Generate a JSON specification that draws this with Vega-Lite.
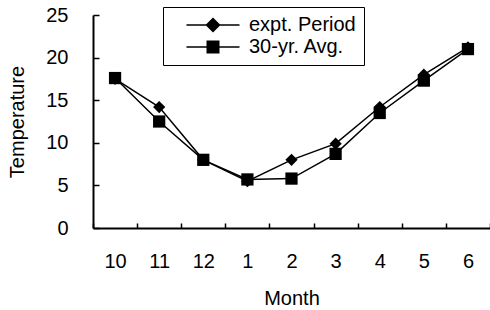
{
  "$schema": "https://vega.github.io/schema/vega-lite/v6.json",
  "width": 397,
  "height": 213,
  "autosize": {"type": "none"},
  "padding": {"left": 93, "top": 15, "right": 0, "bottom": 82},
  "background": "white",
  "config": {
    "view": {"stroke": null},
    "font": "Liberation Sans",
    "axis": {"domainColor": "black", "tickColor": "black", "labelColor": "black", "titleColor": "black", "grid": false, "labelFont": "Liberation Sans", "titleFont": "Liberation Sans", "titleFontWeight": "normal", "labelFontSize": 20, "titleFontSize": 20, "domainWidth": 2, "tickWidth": 1.5}
  },
  "data": {
    "values": [
      {"Month": "10", "Series": "expt. Period", "Temperature": 17.5},
      {"Month": "11", "Series": "expt. Period", "Temperature": 14.2},
      {"Month": "12", "Series": "expt. Period", "Temperature": 8.0},
      {"Month": "1", "Series": "expt. Period", "Temperature": 5.5},
      {"Month": "2", "Series": "expt. Period", "Temperature": 8.0},
      {"Month": "3", "Series": "expt. Period", "Temperature": 9.9},
      {"Month": "4", "Series": "expt. Period", "Temperature": 14.2},
      {"Month": "5", "Series": "expt. Period", "Temperature": 18.0},
      {"Month": "6", "Series": "expt. Period", "Temperature": 21.2},
      {"Month": "10", "Series": "30-yr. Avg.", "Temperature": 17.6},
      {"Month": "11", "Series": "30-yr. Avg.", "Temperature": 12.5},
      {"Month": "12", "Series": "30-yr. Avg.", "Temperature": 8.0},
      {"Month": "1", "Series": "30-yr. Avg.", "Temperature": 5.7},
      {"Month": "2", "Series": "30-yr. Avg.", "Temperature": 5.8},
      {"Month": "3", "Series": "30-yr. Avg.", "Temperature": 8.7},
      {"Month": "4", "Series": "30-yr. Avg.", "Temperature": 13.5},
      {"Month": "5", "Series": "30-yr. Avg.", "Temperature": 17.3},
      {"Month": "6", "Series": "30-yr. Avg.", "Temperature": 21.0}
    ]
  },
  "encoding": {
    "x": {
      "field": "Month", "type": "ordinal",
      "sort": ["10", "11", "12", "1", "2", "3", "4", "5", "6"],
      "scale": {"type": "band", "paddingInner": 0, "paddingOuter": 0},
      "axis": {"labelAngle": 0, "tickBand": "extent", "tickSize": -5, "labelPadding": 28, "titlePadding": 17, "title": "Month"}
    },
    "y": {
      "field": "Temperature", "type": "quantitative",
      "scale": {"domain": [0, 25], "nice": false},
      "axis": {"values": [0, 5, 10, 15, 20, 25], "tickSize": -6, "labelPadding": 31, "titlePadding": 18, "title": "Temperature"}
    }
  },
  "layer": [
    {
      "mark": {"type": "line", "color": "black", "strokeWidth": 1.5},
      "encoding": {"detail": {"field": "Series"}}
    },
    {
      "mark": {"type": "point", "filled": true, "color": "black", "opacity": 1, "size": 150},
      "encoding": {
        "shape": {
          "field": "Series", "type": "nominal",
          "scale": {"domain": ["expt. Period", "30-yr. Avg."], "range": ["diamond", "square"]},
          "legend": null
        }
      }
    },
    {
      "mark": {"type": "point", "filled": false, "color": "black", "opacity": 0, "size": 100, "strokeWidth": 1.5},
      "encoding": {
        "shape": {
          "field": "Series", "type": "nominal",
          "scale": {
            "domain": ["expt. Period", "30-yr. Avg."],
            "range": [
              "M-5.3,0H5.3M-1.3,0L0,-1.3L1.3,0L0,1.3ZM-1.05,-0.25H1.05M-0.8,-0.5H0.8M-0.55,-0.75H0.55M-0.3,-1H0.3M-1.05,0.25H1.05M-0.8,0.5H0.8M-0.55,0.75H0.55M-0.3,1H0.3",
              "M-5.3,0H5.3M-1.15,-1.15H1.15V1.15H-1.15ZM-1.15,-0.25H1.15M-1.15,-0.5H1.15M-1.15,-0.75H1.15M-1.15,-1H1.15M-1.15,0.25H1.15M-1.15,0.5H1.15M-1.15,0.75H1.15M-1.15,1H1.15"
            ]
          },
          "legend": {
            "title": null,
            "orient": "none",
            "legendX": 70,
            "legendY": -8,
            "direction": "vertical",
            "padding": 8,
            "strokeColor": "black",
            "fillColor": "white",
            "labelFont": "Liberation Sans",
            "labelFontSize": 20,
            "labelColor": "black",
            "labelOffset": 26,
            "rowPadding": 2,
            "symbolSize": 100,
            "symbolOffset": 32,
            "symbolOpacity": 1,
            "symbolStrokeWidth": 1.5,
            "symbolStrokeColor": "black"
          }
        }
      }
    }
  ],
  "resolve": {"scale": {"shape": "independent"}}
}
